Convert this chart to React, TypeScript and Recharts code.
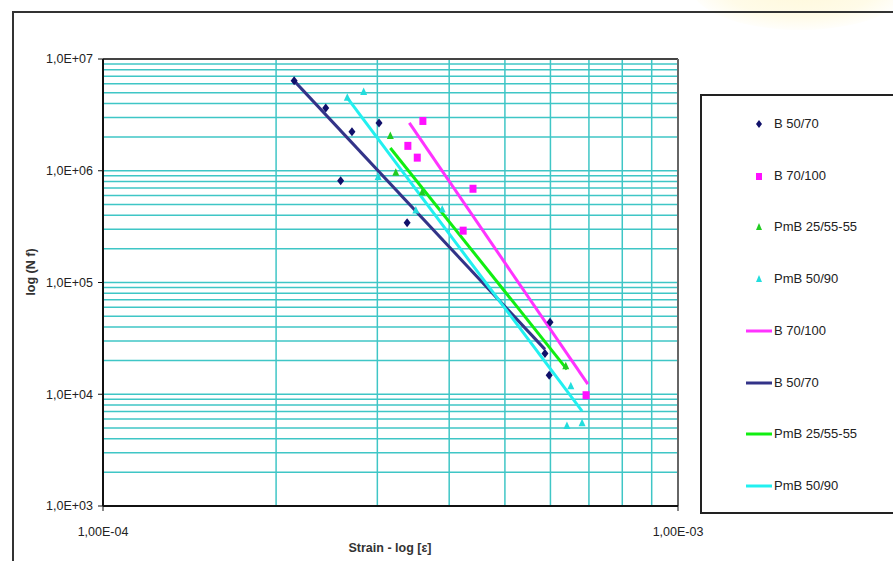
import React from "react";
import { ComposedChart, Scatter, Line, XAxis, YAxis, ReferenceLine } from "recharts";

// measured points: strain [-] vs cycles to failure
const b5070Strain = [2.15e-4, 2.44e-4, 2.71e-4, 3.02e-4, 2.59e-4, 3.38e-4, 5.99e-4, 5.87e-4, 5.97e-4];
const b5070Cycles = [6.4e6, 3.65e6, 2.23e6, 2.68e6, 8.15e5, 3.43e5, 4.4e4, 2.32e4, 1.48e4];

const b70100Strain = [3.6e-4, 3.39e-4, 3.52e-4, 4.4e-4, 4.23e-4, 6.92e-4];
const b70100Cycles = [2.79e6, 1.67e6, 1.31e6, 6.9e5, 2.91e5, 9.8e3];

const pmb2555Strain = [3.16e-4, 3.23e-4, 3.59e-4, 6.38e-4];
const pmb2555Cycles = [2.05e6, 9.6e5, 6.4e5, 1.78e4];

const pmb5090Strain = [2.84e-4, 2.66e-4, 3.01e-4, 3.5e-4, 3.89e-4, 6.51e-4, 6.81e-4, 6.41e-4];
const pmb5090Cycles = [5.07e6, 4.49e6, 8.8e5, 4.4e5, 4.5e5, 1.18e4, 5.5e3, 5.2e3];

// fitted fatigue lines (end points)
const b70100FitStrain = [3.41e-4, 6.97e-4];
const b70100FitCycles = [2.68e6, 1.23e4];
const b5070FitStrain = [2.15e-4, 5.87e-4];
const b5070FitCycles = [6.37e6, 2.52e4];
const pmb2555FitStrain = [3.16e-4, 6.41e-4];
const pmb2555FitCycles = [1.6e6, 1.67e4];
const pmb5090FitStrain = [2.66e-4, 6.81e-4];
const pmb5090FitCycles = [4.49e6, 7.05e3];

const xTicks = [1e-4, 1e-3];
const yTicks = [1e3, 1e4, 1e5, 1e6, 1e7];
const xGrid = [2e-4, 3e-4, 4e-4, 5e-4, 6e-4, 7e-4, 8e-4, 9e-4];
const yGrid = [1e3, 1e4, 1e5, 1e6].flatMap((d) => [1, 2, 3, 4, 5, 6, 7, 8, 9].map((m) => m * d)).slice(1);

const zip = (xs: number[], ys: number[]) => xs.map((x, i) => ({ x, y: ys[i] }));

const GRID = "#3fc6c6";
const FONT = "'Liberation Sans Narrow', 'Liberation Sans', Arial, sans-serif";

const Diamond = (p: any) => (
  <polygon
    points={`${p.cx},${p.cy - 4.5} ${p.cx + 3.5},${p.cy} ${p.cx},${p.cy + 4.5} ${p.cx - 3.5},${p.cy}`}
    fill="#10106a"
  />
);
const Square = (p: any) => <rect x={p.cx - 3.5} y={p.cy - 4} width={7} height={8} fill="#ff10ff" />;
const makeTriangle = (color: string) => (p: any) => (
  <polygon points={`${p.cx},${p.cy - 4.5} ${p.cx + 3.5},${p.cy + 3} ${p.cx - 3.5},${p.cy + 3}`} fill={color} />
);

const legendItems = [
  { label: "B 50/70", kind: "diamond", color: "#10106a" },
  { label: "B 70/100", kind: "square", color: "#ff10ff" },
  { label: "PmB 25/55-55", kind: "triangle", color: "#22cc22" },
  { label: "PmB 50/90", kind: "triangle", color: "#22dddd" },
  { label: "B 70/100", kind: "line", color: "#ff33ff" },
  { label: "B 50/70", kind: "line", color: "#333388" },
  { label: "PmB 25/55-55", kind: "line", color: "#11ee11" },
  { label: "PmB 50/90", kind: "line", color: "#22f0f0" },
];

function LegendMarker({ kind, color }: { kind: string; color: string }) {
  return (
    <svg width={28} height={12} style={{ position: "absolute", left: 44, top: -6 }}>
      {kind === "diamond" && <polygon points="13,2 16,6 13,10 10,6" fill={color} />}
      {kind === "square" && <rect x={10} y={3} width={6} height={7} fill={color} />}
      {kind === "triangle" && <polygon points="13,2 16,9 10,9" fill={color} />}
      {kind === "line" && <line x1={0} y1={6} x2={26} y2={6} stroke={color} strokeWidth={3} />}
    </svg>
  );
}

export default function App() {
  return (
    <div style={{ position: "relative", width: 893, height: 561, overflow: "hidden", background: "#fff", fontFamily: FONT }}>
      <style>{`html, body { margin: 0; padding: 0; overflow: hidden; }`}</style>
      <div
        style={{
          position: "absolute",
          left: 690,
          top: -60,
          width: 220,
          height: 90,
          borderRadius: "50%",
          background: "radial-gradient(ellipse at center, #fff8d8 0%, #fffbe8 50%, rgba(255,255,255,0) 75%)",
        }}
      />
      <div style={{ position: "absolute", left: 12, top: 11, width: 920, height: 600, border: "2px solid #333" }} />

      <div style={{ position: "absolute", left: 0, top: 0 }}>
        <ComposedChart width={893} height={561} margin={{ top: 59, right: 215, bottom: 15, left: 28 }}>
          <XAxis
            dataKey="x"
            type="number"
            scale="log"
            domain={[1e-4, 1e-3]}
            ticks={xTicks}
            interval={0}
            allowDataOverflow
            height={40}
            tickSize={5}
            tickMargin={16}
            axisLine={{ stroke: "#111", strokeWidth: 2 }}
            tickLine={{ stroke: "#111" }}
            tick={{ fontSize: 12.5, fill: "#222", fontFamily: FONT }}
            tickFormatter={(v: number) => `1,00E-0${-Math.round(Math.log10(v))}`}
          />
          <YAxis
            dataKey="y"
            type="number"
            scale="log"
            domain={[1e3, 1e7]}
            ticks={yTicks}
            interval={0}
            allowDataOverflow
            width={75}
            tickSize={5}
            tickMargin={5}
            axisLine={{ stroke: "#111", strokeWidth: 2 }}
            tickLine={{ stroke: "#111" }}
            tick={{ fontSize: 12.5, fill: "#222", fontFamily: FONT }}
            tickFormatter={(v: number) => `1,0E+0${Math.round(Math.log10(v))}`}
          />
          {xGrid.map((v) => (
            <ReferenceLine key={`gx${v}`} x={v} stroke={GRID} strokeWidth={1.5} />
          ))}
          {yGrid.map((v) => (
            <ReferenceLine key={`gy${v}`} y={v} stroke={GRID} strokeWidth={1.5} />
          ))}
          <ReferenceLine y={1e7} stroke="#444" strokeWidth={2} />
          <ReferenceLine x={1e-3} stroke="#666" strokeWidth={2} />

          <Scatter name="B 50/70" data={zip(b5070Strain, b5070Cycles)} shape={Diamond} isAnimationActive={false} />
          <Scatter name="B 70/100" data={zip(b70100Strain, b70100Cycles)} shape={Square} isAnimationActive={false} />
          <Scatter name="PmB 25/55-55" data={zip(pmb2555Strain, pmb2555Cycles)} shape={makeTriangle("#22cc22")} isAnimationActive={false} />
          <Scatter name="PmB 50/90" data={zip(pmb5090Strain, pmb5090Cycles)} shape={makeTriangle("#22dddd")} isAnimationActive={false} />

          <Line data={zip(b70100FitStrain, b70100FitCycles)} dataKey="y" stroke="#ff33ff" strokeWidth={3} dot={false} isAnimationActive={false} />
          <Line data={zip(b5070FitStrain, b5070FitCycles)} dataKey="y" stroke="#333388" strokeWidth={3} dot={false} isAnimationActive={false} />
          <Line data={zip(pmb2555FitStrain, pmb2555FitCycles)} dataKey="y" stroke="#11ee11" strokeWidth={3} dot={false} isAnimationActive={false} />
          <Line data={zip(pmb5090FitStrain, pmb5090FitCycles)} dataKey="y" stroke="#22f0f0" strokeWidth={3} dot={false} isAnimationActive={false} />
        </ComposedChart>
      </div>

      <div
        style={{
          position: "absolute",
          left: 31,
          top: 272,
          transform: "translate(-50%, -50%) rotate(-90deg)",
          fontSize: 12.5,
          fontWeight: "bold",
          color: "#333",
          whiteSpace: "nowrap",
        }}
      >
        log (N f)
      </div>
      <div
        style={{
          position: "absolute",
          left: 390,
          top: 541,
          transform: "translateX(-50%)",
          fontSize: 12.5,
          fontWeight: "bold",
          color: "#333",
          whiteSpace: "nowrap",
        }}
      >
        Strain - log [ε]
      </div>

      <div style={{ position: "absolute", left: 700, top: 94, width: 300, height: 416, border: "2px solid #222" }}>
        {legendItems.map((item, i) => (
          <div key={i} style={{ position: "absolute", left: 0, top: 28 + i * 51.7, width: 200, height: 0 }}>
            <LegendMarker kind={item.kind} color={item.color} />
            <span style={{ position: "absolute", left: 72, top: -8, fontSize: 13, color: "#222", whiteSpace: "nowrap" }}>
              {item.label}
            </span>
          </div>
        ))}
      </div>
    </div>
  );
}
